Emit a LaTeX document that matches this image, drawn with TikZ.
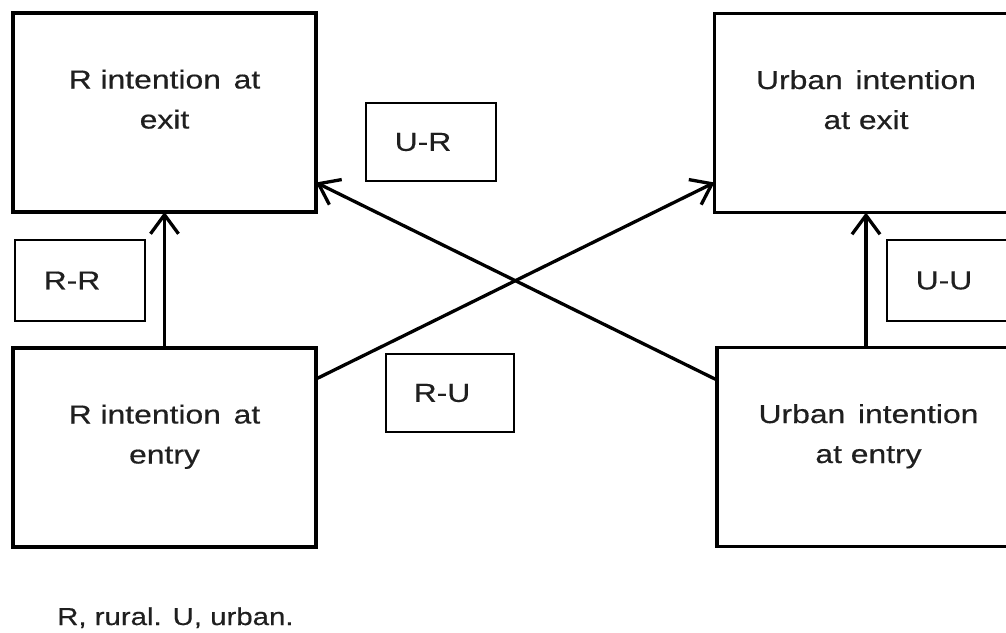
\documentclass[tikz,border=0pt]{standalone}
\usepackage{fontspec}
\setmainfont{Liberation Sans}[FakeBold=0.4]
\usetikzlibrary{arrows.meta,calc}
\newcommand\stretchtxt[1]{\scalebox{1.225}[1]{#1}}
\newcommand\capstretch[1]{\scalebox{1.2}[1]{#1}}
\begin{document}
\begin{tikzpicture}[x=1pt,y=-1pt,
  bigbox/.style={draw, line width=3.6pt, minimum width=303pt, minimum height=199pt, inner sep=0pt, outer sep=0pt},
  smallbox/.style={draw, line width=1.9pt, inner sep=0pt, outer sep=0pt, text=black!88, font=\fontsize{26}{30}\selectfont},
  lbl/.style={anchor=base, inner sep=0pt, text=black!88, font=\fontsize{26}{30}\selectfont},
  conn/.style={line width=3.3pt, -{Straight Barb[length=19pt,width=28pt,line width=3.3pt]}}]
\fill[white] (0,0) rectangle (1006,632);
\useasboundingbox (0,0) rectangle (1006,632);
\clip (0,0) rectangle (1006,632);

% large boxes
\node[bigbox] (rexit) at (164.5,112.5) {};
\node[bigbox] (uexit) at (866,113) {};
\node[bigbox] (rentry) at (164.5,447.5) {};
\node[bigbox] (uentry) at (868.5,447) {};

% texts of large boxes
\node[lbl] (rexit1) at ($(rexit.north)+(0,75.5)$) {\stretchtxt{R intention\hspace{0.4em}at}};
\node[lbl] (rexit2) at ($(rexit.north)+(0,115.5)$) {\stretchtxt{exit}};
\node[lbl] (uexit1) at ($(uexit.north)+(0,75.5)$) {\stretchtxt{Urban\hspace{0.4em}intention}};
\node[lbl] (uexit2) at ($(uexit.north)+(0,115.5)$) {\stretchtxt{at exit}};
\node[lbl] (rentry1) at ($(rentry.north)+(0,75.5)$) {\stretchtxt{R intention\hspace{0.4em}at}};
\node[lbl] (rentry2) at ($(rentry.north)+(0,115.5)$) {\stretchtxt{entry}};
\node[lbl] (uentry1) at ($(uentry.north)+(0,75.5)$) {\stretchtxt{Urban\hspace{0.4em}intention}};
\node[lbl] (uentry2) at ($(uentry.north)+(0,115.5)$) {\stretchtxt{at entry}};

% small label boxes
\node[smallbox, minimum width=130pt, minimum height=81pt] (rr) at (80,280.5) {\hspace*{-16pt}\stretchtxt{R-R}};
\node[smallbox, minimum width=130pt, minimum height=78pt] (ur) at (431,142) {\hspace*{-16pt}\stretchtxt{U-R}};
\node[smallbox, minimum width=128pt, minimum height=78pt] (ru) at (450,393) {\hspace*{-16pt}\stretchtxt{R-U}};
\node[smallbox, minimum width=130pt, minimum height=81pt] (uu) at (952,280.5) {\hspace*{-16pt}\stretchtxt{U-U}};

% connectors
\draw[conn] (rentry.north) -- (rexit.south);
\draw[conn] (uentry.north -| uexit.south) -- (uexit.south);
\draw[conn] ($(rentry.north east)+(0,31)$) -- ($(uexit.north west)+(0,169)$);
\draw[conn] ($(uentry.north west)+(0,32.5)$) -- ($(rexit.north east)+(0,169.5)$);

% caption
\node[anchor=base west, inner sep=0pt, text=black!88, font=\fontsize{24.5}{28}\selectfont] (caption) at (57,625) {\capstretch{R, rural. U, urban.}};
\end{tikzpicture}
\end{document}
